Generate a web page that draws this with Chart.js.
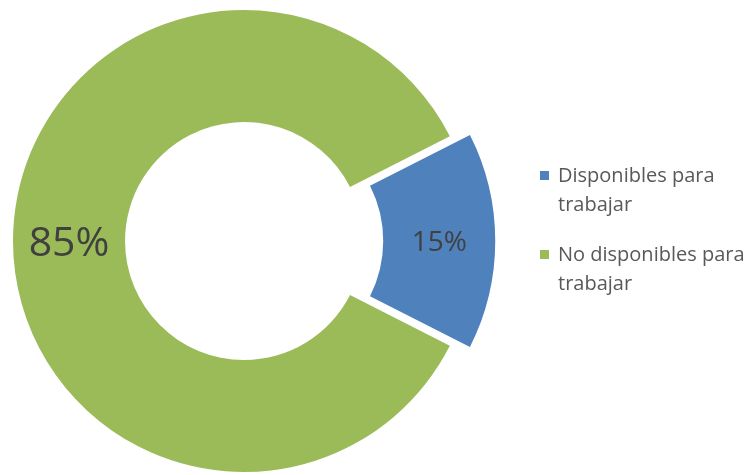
<!DOCTYPE html>
<html>
<head>
<meta charset="utf-8">
<script src="https://cdn.jsdelivr.net/npm/chart.js@4"></script>
<style>
    body { margin: 0; background: #fff; }
    #wrap { position: relative; width: 755px; height: 475px; }
    #legend { position: absolute; left: 540px; top: 160px; font-family: "Open Sans", sans-serif; font-size: 20px; color: #595959; }
    .item { position: relative; padding-left: 18px; line-height: 29px; margin-bottom: 21px; }
    .box { position: absolute; left: 0; top: 11px; width: 9px; height: 9px; }
</style>
</head>
<body>
<div id="wrap">
    <canvas id="chart-donut" width="755" height="475"></canvas>
    <div id="legend"></div>
</div>
<script>
var categories = [['Disponibles para', 'trabajar'], ['No disponibles para', 'trabajar']];
var values = [15, 85];
var colors = ['#4F81BD', '#9BBB59'];
var explode = [17, 0];   // pixels the slice is pulled out

// chart.js moves an arc by offset/4 and also pushes its radius out a bit
function pushOut(arc, d) {
    const c = arc.endAngle - arc.startAngle;
    return d * (1 + (1 - Math.sin(Math.min(Math.PI, c))));
}

// percent labels drawn in the middle of each slice
const pctLabels = {
    id: 'pctLabels',
    afterDatasetsDraw(chart) {
        const ctx = chart.ctx;
        const meta = chart.getDatasetMeta(0);
        const total = values.reduce((a, b) => a + b, 0);
        meta.data.forEach((arc, i) => {
            const mid = (arc.startAngle + arc.endAngle) / 2;
            const r = (arc.innerRadius + arc.outerRadius) / 2 + pushOut(arc, explode[i]);
            const x = arc.x + Math.cos(mid) * r;
            const y = arc.y + Math.sin(mid) * r;
            const pct = Math.round(values[i] / total * 100) + '%';
            const size = i == 0 ? 28 : 41;
            ctx.save();
            ctx.font = size + 'px "Open Sans"';
            ctx.fillStyle = '#404040';
            ctx.textAlign = 'center';
            ctx.textBaseline = 'alphabetic';
            ctx.fillText(pct, x, y + size * 0.36);
            ctx.restore();
        });
    }
};

var ctx = document.getElementById('chart-donut').getContext('2d');
window.DonutChart = new Chart(ctx, {
    type: 'doughnut',
    data: {
        labels: categories,
        datasets: [{
            data: values,
            backgroundColor: colors,
            borderWidth: 0,
            offset: explode.map(v => v * 4)
        }]
    },
    options: {
        responsive: false,
        animation: false,
        rotation: 63,
        radius: 231,
        cutout: '51.5%',
        layout: {
            padding: { left: 0, right: 267, top: 7, bottom: 0 }
        },
        plugins: {
            legend: { display: false },
            tooltip: { enabled: false }
        }
    },
    plugins: [pctLabels]
});

var legend = document.getElementById('legend');
categories.forEach((lines, i) => {
    var item = document.createElement('div');
    item.className = 'item';
    item.innerHTML = '<span class="box" style="background:' + colors[i] + '"></span>' + lines.join('<br>');
    legend.appendChild(item);
});
</script>
</body>
</html>
